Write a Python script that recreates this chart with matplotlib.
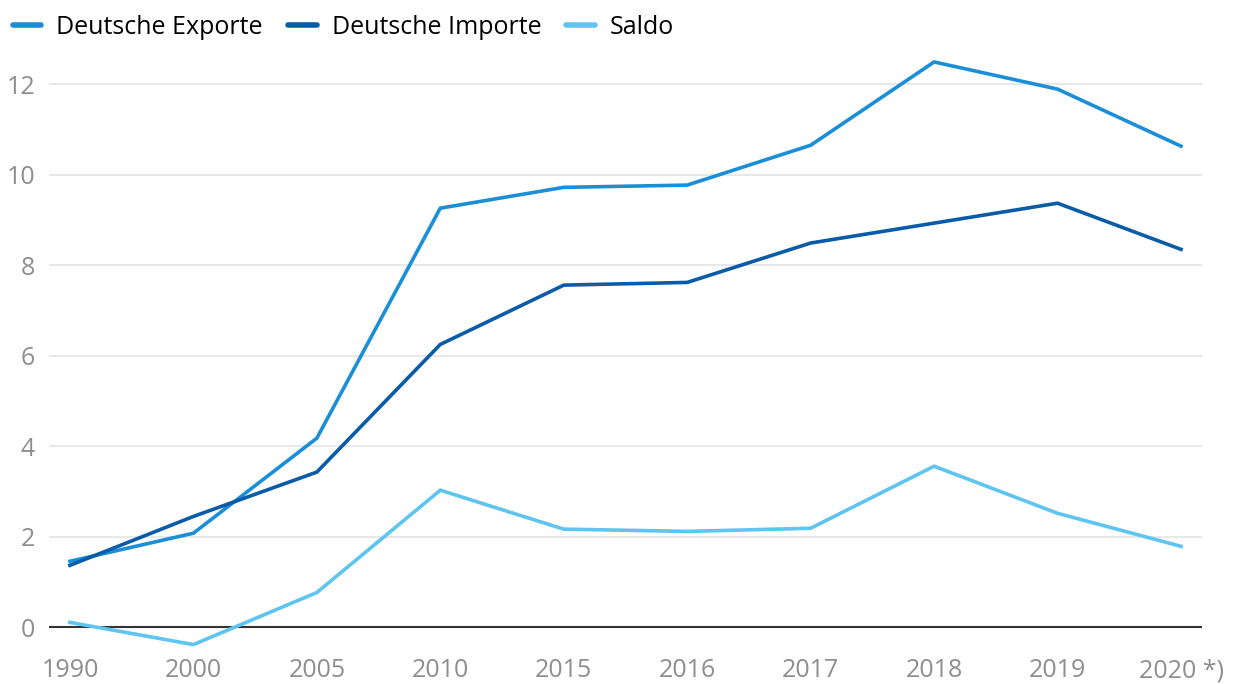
import matplotlib.pyplot as plt
import numpy as np

years = ['1990', '2000', '2005', '2010', '2015', '2016', '2017', '2018', '2019', '2020 *)']
exporte = [1.46, 2.08, 4.18, 9.26, 9.72, 9.77, 10.65, 12.49, 11.89, 10.63]
importe = [1.37, 2.45, 3.43, 6.25, 7.56, 7.62, 8.49, 8.93, 9.37, 8.35]
saldo = [0.11, -0.38, 0.77, 3.03, 2.17, 2.12, 2.19, 3.56, 2.52, 1.79]

plt.rcParams['font.family'] = ['Open Sans', 'DejaVu Sans']

fig = plt.figure(figsize=(12.36, 6.84), dpi=100)
ax = fig.add_axes([0.0396, 0.0497, 0.9329, 0.867])

x = np.arange(len(years))
ax.plot(x, exporte, color='#1a8fd8', lw=2.6, label='Deutsche Exporte', solid_joinstyle='miter', zorder=3)
ax.plot(x, importe, color='#0a5ba8', lw=2.6, label='Deutsche Importe', solid_joinstyle='miter', zorder=3)
ax.plot(x, saldo, color='#5ec4f0', lw=2.6, label='Saldo', solid_joinstyle='miter', zorder=3)

ax.set_xlim(-0.17, 9.17)
ax.set_ylim(-0.5, 12.6)
ax.set_yticks([0, 2, 4, 6, 8, 10, 12])
ax.set_xticks(x)
ax.set_xticklabels(years)

for s in ax.spines.values():
    s.set_visible(False)
ax.grid(axis='y', color='#e4e4e4', lw=1.2, zorder=0)
ax.axhline(0, color='#333333', lw=1.5, zorder=2)
ax.tick_params(axis='both', length=0, labelsize=18, labelcolor='#8e8e8e')
ax.tick_params(axis='y', pad=10)
ax.tick_params(axis='x', pad=6)

leg = fig.legend(loc='upper left', bbox_to_anchor=(-0.004, 1.004), ncol=3, frameon=False,
                 fontsize=18, handlelength=1.15, handletextpad=0.6, columnspacing=1.0,
                 borderaxespad=0.3)
for h in leg.get_lines():
    h.set_linewidth(4)
    h.set_solid_capstyle('round')

plt.savefig('out.png', dpi=100)
